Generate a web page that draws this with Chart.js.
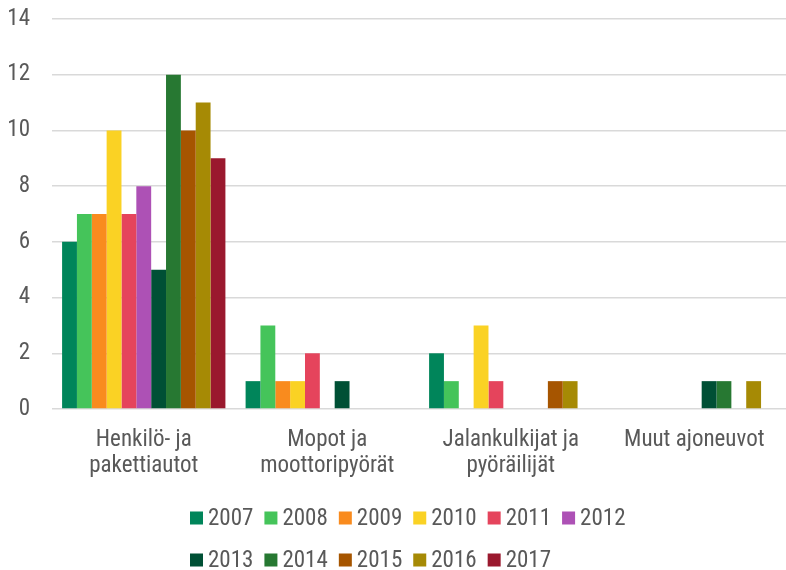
<!DOCTYPE html>
<html lang="fi">
<head>
  <meta charset="UTF-8">
  <title>Kuolleet ajoneuvoryhmittäin 2007–2017</title>
  <script src="https://cdn.jsdelivr.net/npm/chart.js"></script>
  <style>
    html, body {
      margin: 0;
      padding: 0;
      background: #ffffff;
    }
    #wrap {
      width: 786px;
      height: 570px;
    }
  </style>
</head>
<body>
  <div id="wrap">
    <canvas id="barChart" width="786" height="570"></canvas>
  </div>

  <script>
    // categories (multi-line labels) and the years
    const categories = [
      ['Henkilö- ja', 'pakettiautot'],
      ['Mopot ja', 'moottoripyörät'],
      ['Jalankulkijat ja', 'pyöräilijät'],
      ['Muut ajoneuvot']
    ];
    const years = ['2007', '2008', '2009', '2010', '2011', '2012', '2013', '2014', '2015', '2016', '2017'];

    // values per year, in category order
    const v2007 = [6, 1, 2, 0];
    const v2008 = [7, 3, 1, 0];
    const v2009 = [7, 1, 0, 0];
    const v2010 = [10, 1, 3, 0];
    const v2011 = [7, 2, 1, 0];
    const v2012 = [8, 0, 0, 0];
    const v2013 = [5, 1, 0, 1];
    const v2014 = [12, 0, 0, 1];
    const v2015 = [10, 0, 1, 0];
    const v2016 = [11, 0, 1, 1];
    const v2017 = [9, 0, 0, 0];

    const yTicks = [0, 2, 4, 6, 8, 10, 12, 14];

    const series = [v2007, v2008, v2009, v2010, v2011, v2012, v2013, v2014, v2015, v2016, v2017];
    const colors = ['#00855a', '#45c45a', '#f98b1e', '#fad224', '#e5445c', '#ad51b5',
                    '#005035', '#277832', '#a65500', '#a68a05', '#9a192e'];

    const FONT = '"Roboto Condensed", "Open Sans", "DejaVu Sans Condensed", sans-serif';
    const TEXT = '#595959';

    // legend drawn in two rows (6 + 5), rows left aligned
    const legendRows = [6, 5];
    const rowLegend = {
      id: 'rowLegend',
      afterDraw(chart) {
        const ctx = chart.ctx;
        const box = 13, gap = 5, space = 11;
        ctx.save();
        ctx.font = '23px ' + FONT;
        ctx.textBaseline = 'middle';
        ctx.textAlign = 'left';
        const items = chart.data.datasets.map(ds => ({
          text: ds.label,
          color: ds.backgroundColor,
          w: box + gap + ctx.measureText(ds.label).width
        }));
        let idx = 0;
        const rows = legendRows.map(n => {
          const r = items.slice(idx, idx + n);
          idx += n;
          return r;
        });
        const rowW = rows.map(r => r.reduce((s, it) => s + it.w, 0) + space * (r.length - 1));
        const startX = Math.round(408 - Math.max(...rowW) / 2);
        const rowY = [518, 560];
        rows.forEach((r, ri) => {
          let x = startX;
          r.forEach(it => {
            ctx.fillStyle = it.color;
            ctx.fillRect(x, rowY[ri] - box / 2, box, box);
            ctx.fillStyle = TEXT;
            ctx.fillText(it.text, x + box + gap, rowY[ri] + 1);
            x += it.w + space;
          });
        });
        ctx.restore();
      }
    };

    const ctx = document.getElementById('barChart').getContext('2d');
    new Chart(ctx, {
      type: 'bar',
      data: {
        labels: categories,
        datasets: years.map((y, i) => ({
          label: y,
          data: series[i],
          backgroundColor: colors[i],
          borderWidth: 0,
          categoryPercentage: 0.89,
          barPercentage: 1.0
        }))
      },
      options: {
        responsive: false,
        animation: false,
        layout: {
          padding: { top: 19, right: 0, bottom: 91, left: 8 }
        },
        plugins: {
          legend: { display: false },
          tooltip: { enabled: false }
        },
        scales: {
          x: {
            grid: { display: false, drawTicks: false },
            border: { display: false },
            ticks: {
              color: TEXT,
              font: { family: FONT, size: 23, lineHeight: 1.13 },
              padding: 18,
              maxRotation: 0,
              autoSkip: false
            },
            afterFit(scale) {
              scale.paddingLeft = 0;
              scale.paddingRight = 0;
              scale.height = 70;
            }
          },
          y: {
            min: 0,
            max: 14,
            afterBuildTicks(scale) {
              scale.ticks = yTicks.map(v => ({ value: v }));
            },
            grid: { color: '#d9d9d9', lineWidth: 1.5, drawTicks: false },
            border: { display: false },
            ticks: {
              color: TEXT,
              font: { family: FONT, size: 23 },
              padding: 22
            },
            afterFit(scale) {
              scale.paddingTop = 0;
              scale.paddingBottom = 0;
              scale.width = 44;
            }
          }
        }
      },
      plugins: [rowLegend]
    });
  </script>
</body>
</html>
